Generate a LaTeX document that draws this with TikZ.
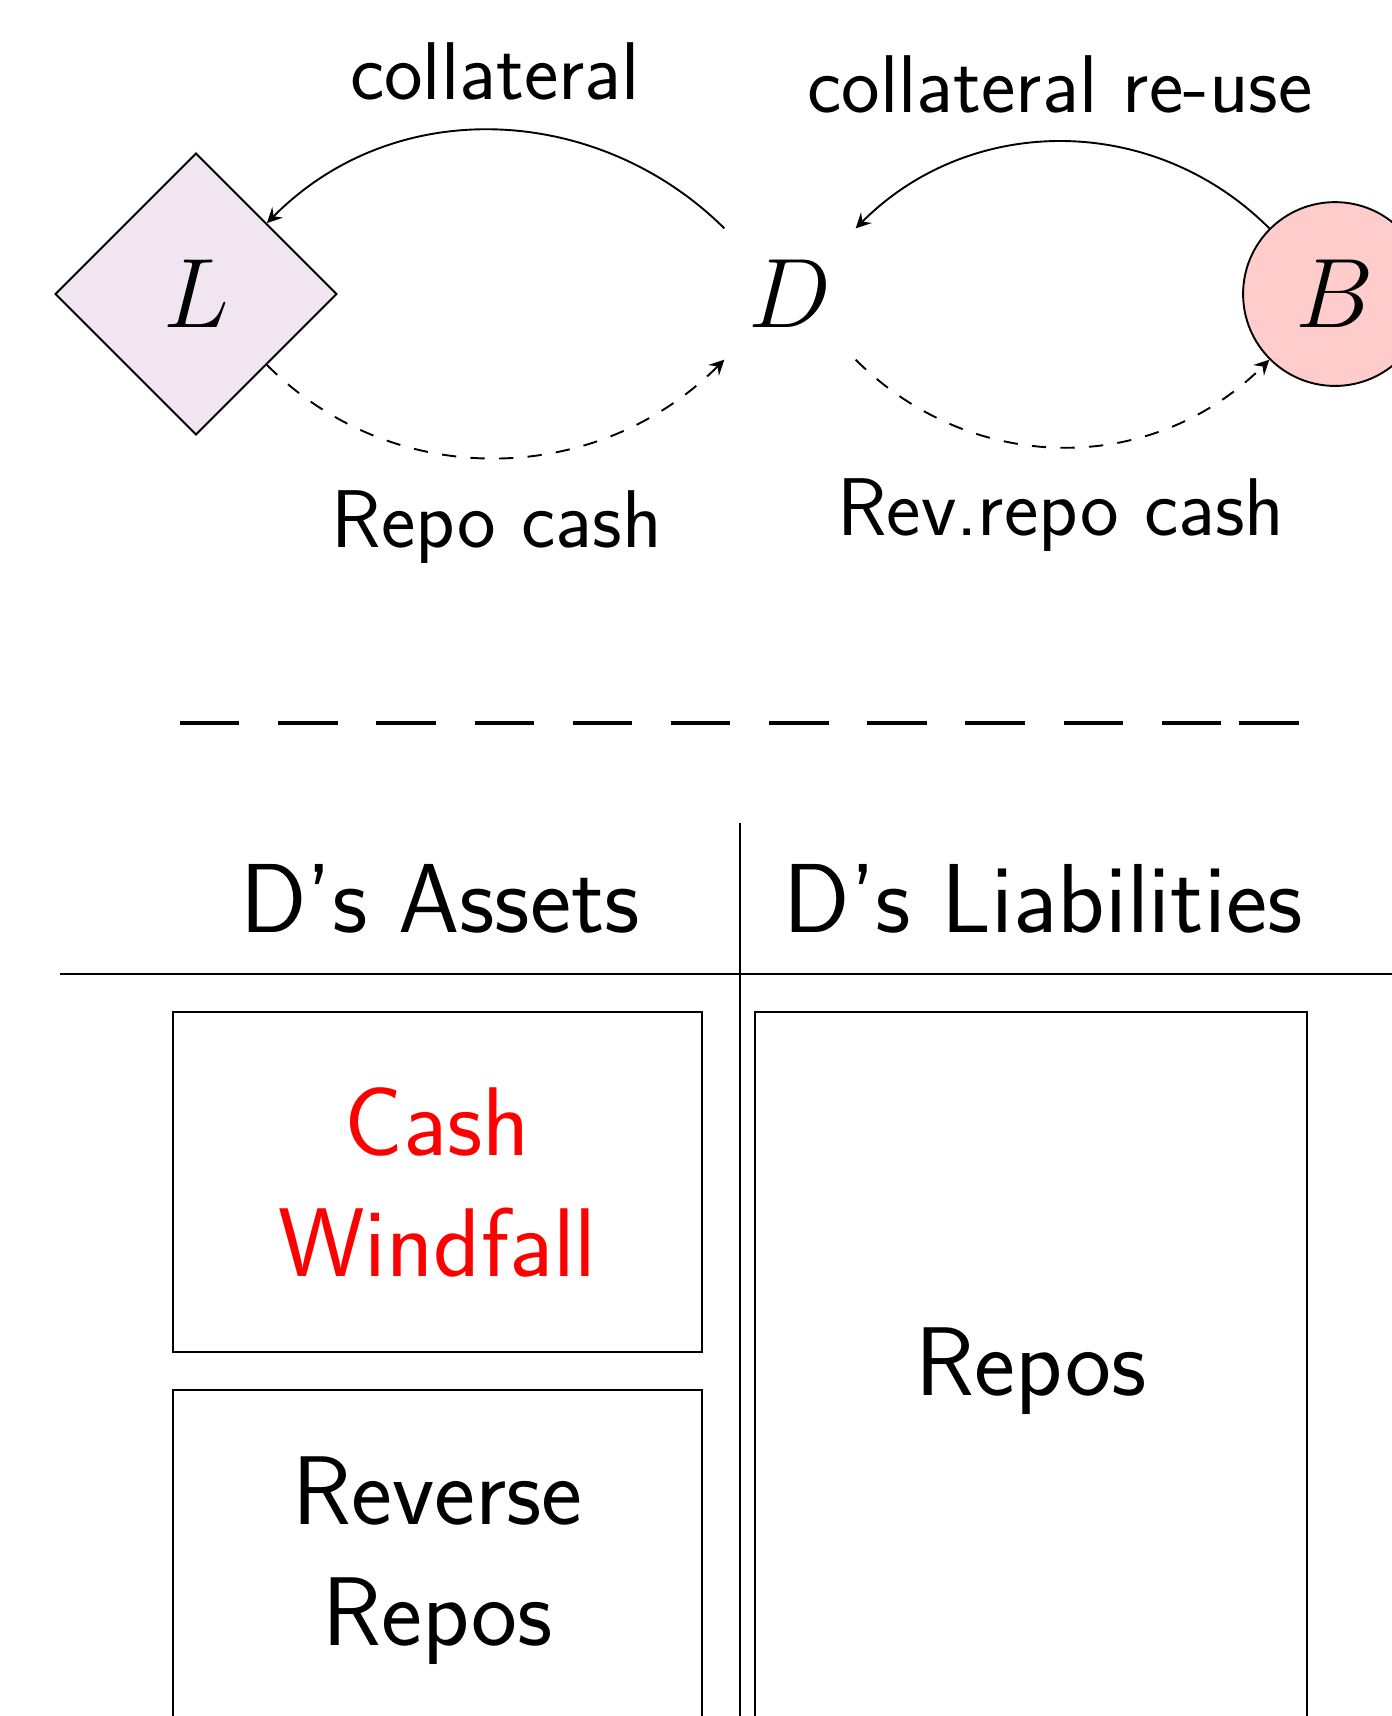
\documentclass[tikz,border=0pt]{standalone}
\usetikzlibrary{shapes.geometric}
\begin{document}
\begin{tikzpicture}[x=0.21pt,y=-0.21pt,
  bigmath/.style={font=\fontsize{20.5}{24}\selectfont},
  agent/.style={circle,minimum size=38.6pt,inner sep=0pt,bigmath},
  lbl/.style={font=\sffamily\fontsize{17.2}{20}\selectfont,inner sep=0pt,anchor=base},
  head/.style={font=\sffamily\fontsize{20.6}{25.4}\selectfont,inner sep=0pt,anchor=base},
  bx/.style={rectangle,draw,line width=0.3pt,align=center,inner sep=0pt,
    font=\sffamily\fontsize{20.5}{25.4}\selectfont},
  tline/.style={line width=0.3pt},
  flow/.style={-stealth,line width=0.4pt}
]
\clip (0,0) rectangle (1392,1716);
% agents
\node[diamond,draw,fill=violet!10,minimum width=59.2pt,minimum height=59.2pt,inner sep=0pt,bigmath] (L) at (196,294) {$L$};
\node[agent] (D) at (790,294) {$D$};
\node[agent,draw,fill=red!20] (B) at (1335,294) {$B$};
% flows
\draw[flow] (D.135) .. controls (600,105) and (397,92) .. (L.45);
\draw[flow] (B.135) .. controls (1154,113) and (971,113) .. (D.45);
\draw[flow,dashed] (L.-45) .. controls (394,492) and (597,487) .. (D.-135);
\draw[flow,dashed] (D.-45) .. controls (972,476) and (1153,476) .. (B.-135);
% labels
\node[lbl] (t1) at (495,99) {collateral};
\node[lbl] (t2) at (1060,112) {collateral re-use};
\node[lbl] (t3) at (497,547) {Repo cash};
\node[lbl] (t4) at (1061,535) {Rev.repo cash};
% separator
\draw[line width=0.7pt,dash pattern=on 12.47pt off 8.15pt] (180,723) -- (1222,723);
\draw[line width=0.7pt] (1239,723) -- (1299,723);
% balance sheet
\draw[tline] (740,823) -- (740,1740);
\draw[tline] (60,974) -- (1400,974);
\node[head] (ha) at (440,932) {D’s Assets};
\node[head] (hl) at (1043,932) {D’s Liabilities};
\node[bx,text=red,minimum width=111.1pt,minimum height=71.4pt] (cw) at (437.5,1182) {Cash\\Windfall};
\node[bx,minimum width=111.1pt,minimum height=71.6pt] (rr) at (437.5,1560.5) {Reverse\\Repos};
\node[bx,minimum width=115.9pt,minimum height=151pt] (rp) at (1031,1371.5) {Repos};
\end{tikzpicture}
\end{document}
